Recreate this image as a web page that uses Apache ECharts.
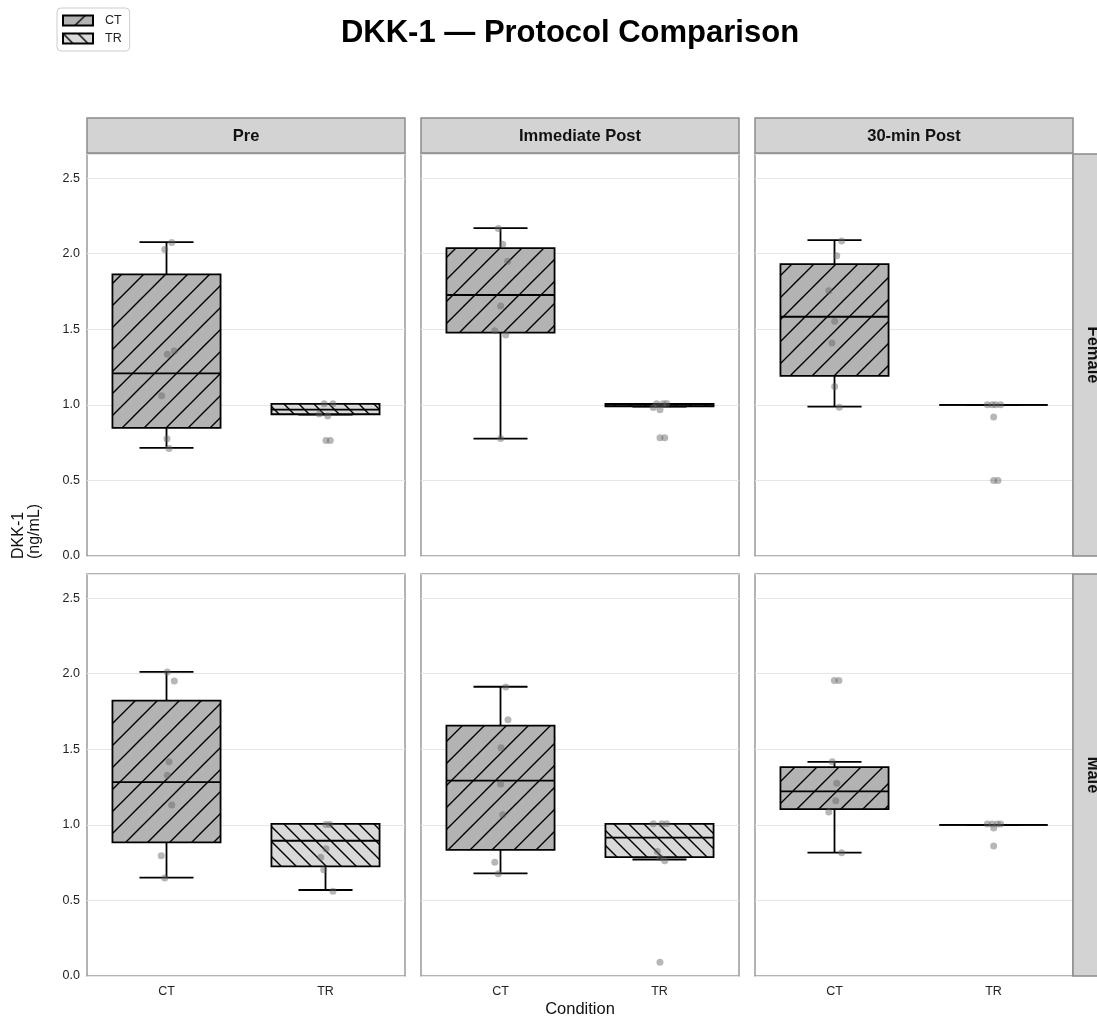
<!DOCTYPE html>
<html><head><meta charset="utf-8">
<script src="https://cdn.jsdelivr.net/npm/echarts@6/dist/echarts.min.js"></script>
<style>html,body{margin:0;padding:0;background:#fff}#chart{width:1097px;height:1021px}</style>
</head><body><div id="chart"></div>
<script>
const timepoints = ['Pre', 'Immediate Post', '30-min Post'];
const sexes = ['Female', 'Male'];
const conditions = ['CT', 'TR'];
const yTicks = [0, 0.5, 1.0, 1.5, 2.0, 2.5];

// box statistics [min, q1, median, q3, max], one per timepoint
const boxFemaleCT = [[0.716, 0.848, 1.209, 1.863, 2.077], [0.777, 1.478, 1.727, 2.037, 2.169], [0.989, 1.192, 1.583, 1.931, 2.090]];
const boxFemaleTR = [[0.936, 0.938, 0.969, 1.007, 1.007], [0.989, 0.990, 1.000, 1.007, 1.007], [1.000, 1.000, 1.000, 1.000, 1.000]];
const boxMaleCT = [[0.651, 0.884, 1.283, 1.822, 2.013], [0.679, 0.834, 1.293, 1.657, 1.914], [0.816, 1.104, 1.221, 1.382, 1.417]];
const boxMaleTR = [[0.569, 0.725, 0.895, 1.007, 1.007], [0.771, 0.787, 0.915, 1.007, 1.007], [1.000, 1.000, 1.000, 1.000, 1.000]];

// individual observations [horizontal jitter, value], one list per timepoint
const ptsFemaleCT = [
  [[0.033, 2.075], [-0.011, 2.028], [0.049, 1.357], [0.005, 1.335], [-0.030, 1.060], [0.003, 0.776], [0.016, 0.711]],
  [[-0.014, 2.167], [0.014, 2.063], [0.045, 1.951], [0.001, 1.654], [-0.036, 1.491], [0.033, 1.462], [0.001, 0.777]],
  [[0.045, 2.085], [0.014, 1.986], [-0.036, 1.755], [0.001, 1.553], [-0.016, 1.410], [0.001, 1.121], [0.030, 0.985]]
];
const ptsFemaleTR = [
  [[-0.008, 1.007], [0.047, 1.007], [-0.039, 0.939], [0.014, 0.927], [0.003, 0.764], [0.030, 0.764]],
  [[-0.018, 1.007], [0.022, 1.007], [0.045, 1.009], [-0.039, 0.982], [0.003, 0.967], [0.003, 0.782], [0.033, 0.782]],
  [[-0.039, 1.0], [-0.008, 1.0], [0.014, 1.0], [0.045, 1.0], [0.001, 0.919], [0.001, 0.500], [0.028, 0.500]]
];
const ptsMaleCT = [
  [[0.005, 2.011], [0.049, 1.952], [0.016, 1.417], [0.005, 1.329], [0.033, 1.131], [-0.033, 0.796], [-0.011, 0.649]],
  [[0.033, 1.912], [0.047, 1.696], [0.003, 1.511], [0.001, 1.271], [0.014, 1.067], [-0.036, 0.752], [-0.014, 0.677]],
  [[-0.001, 1.956], [0.028, 1.956], [-0.014, 1.417], [0.014, 1.276], [0.008, 1.159], [-0.036, 1.085], [0.045, 0.816]]
];
const ptsMaleTR = [
  [[0.003, 1.003], [0.028, 1.003], [0.003, 0.842], [-0.030, 0.785], [-0.011, 0.703], [0.047, 0.560]],
  [[-0.039, 1.007], [0.014, 1.007], [0.045, 1.007], [-0.014, 0.824], [0.003, 0.783], [0.033, 0.763], [0.003, 0.091]],
  [[-0.039, 1.005], [-0.008, 1.005], [0.024, 1.005], [0.045, 1.005], [0.001, 0.980], [0.001, 0.860]]
];

const FONT = '"Liberation Sans", Arial, Helvetica, sans-serif';
const colLeft = [87, 421, 755];
const colWidth = 318;
const rowTop = [154, 574];
const rowHeight = 402;

function makeHatch(period, dir, bg) {
  const c = document.createElement('canvas');
  c.width = period; c.height = period;
  const ctx = c.getContext('2d');
  ctx.fillStyle = bg; ctx.fillRect(0, 0, period, period);
  ctx.strokeStyle = '#000'; ctx.lineWidth = 1.4;
  ctx.beginPath();
  const p = period;
  if (dir === '/') {
    [0, p, 2 * p].forEach(k => { ctx.moveTo(-1, k + 1); ctx.lineTo(p + 1, k - p - 1); });
  } else {
    [-p, 0, p].forEach(k => { ctx.moveTo(-1, k - 1); ctx.lineTo(p + 1, k + p + 1); });
  }
  ctx.stroke();
  return c;
}
const patCT = { image: makeHatch(22, '/', '#b3b3b3'), repeat: 'repeat' };
const patTR = { image: makeHatch(15, '\\', '#d9d9d9'), repeat: 'repeat' };

function renderBox(params, api) {
  const x = api.value(0);
  const pMin = api.coord([x, api.value(1)]);
  const pQ1 = api.coord([x, api.value(2)]);
  const pMed = api.coord([x, api.value(3)]);
  const pQ3 = api.coord([x, api.value(4)]);
  const pMax = api.coord([x, api.value(5)]);
  const band = api.size([1, 0])[0];
  const half = band * 0.34, capHalf = band * 0.17;
  const cx = pMin[0];
  const fill = params.seriesName === 'CT' ? patCT : patTR;
  const ls = { stroke: '#000', lineWidth: 1.8 };
  return {
    type: 'group',
    children: [
      { type: 'line', shape: { x1: cx, y1: pQ3[1], x2: cx, y2: pMax[1] }, style: ls },
      { type: 'line', shape: { x1: cx, y1: pQ1[1], x2: cx, y2: pMin[1] }, style: ls },
      { type: 'line', shape: { x1: cx - capHalf, y1: pMax[1], x2: cx + capHalf, y2: pMax[1] }, style: ls },
      { type: 'line', shape: { x1: cx - capHalf, y1: pMin[1], x2: cx + capHalf, y2: pMin[1] }, style: ls },
      { type: 'rect', shape: { x: cx - half, y: pQ3[1], width: 2 * half, height: pQ1[1] - pQ3[1] }, style: { fill: fill, stroke: '#000', lineWidth: 1.8 } },
      { type: 'line', shape: { x1: cx - half, y1: pMed[1], x2: cx + half, y2: pMed[1] }, style: ls }
    ]
  };
}

const grids = [], xAxes = [], yAxes = [], series = [], graphics = [];
const boxSets = [[boxFemaleCT, boxFemaleTR], [boxMaleCT, boxMaleTR]];
const ptSets = [[ptsFemaleCT, ptsFemaleTR], [ptsMaleCT, ptsMaleTR]];

sexes.forEach((sex, r) => {
  timepoints.forEach((tp, c) => {
    const g = r * 3 + c;
    grids.push({ left: colLeft[c], top: rowTop[r], width: colWidth, height: rowHeight, show: true,
      borderColor: '#9a9a9a', borderWidth: 1.5, backgroundColor: 'transparent' });
    xAxes.push({ gridIndex: g, type: 'category', data: conditions,
      axisLine: { show: false }, axisTick: { show: false }, splitLine: { show: false },
      axisLabel: { show: r === 1, color: '#222', fontSize: 12.5, fontFamily: FONT, margin: 9 } });
    xAxes.push({ gridIndex: g, type: 'value', min: -0.5, max: 1.5, show: false });
    yAxes.push({ gridIndex: g, type: 'value', min: 0, max: 2.66, interval: 0.5,
      axisLine: { show: false }, axisTick: { show: false },
      splitLine: { show: true, lineStyle: { color: '#e6e6e6', width: 1.2 } },
      axisLabel: { show: c === 0, showMaxLabel: false, color: '#222', fontSize: 12.5, fontFamily: FONT, margin: 7,
        formatter: v => (yTicks.indexOf(Math.round(v * 100) / 100) >= 0 ? v.toFixed(1) : '') } });
    conditions.forEach((cond, k) => {
      series.push({ type: 'custom', name: cond, xAxisIndex: 2 * g, yAxisIndex: g, silent: true,
        itemStyle: { color: k === 0 ? patCT : patTR, borderColor: '#000', borderWidth: 1.2 },
        encode: { x: 0, y: [1, 2, 3, 4, 5] },
        renderItem: renderBox, z: 2,
        data: [[k].concat(boxSets[r][k][c])] });
    });
    conditions.forEach((cond, k) => {
      series.push({ type: 'scatter', name: 'points-' + cond, xAxisIndex: 2 * g + 1, yAxisIndex: g, silent: true,
        symbolSize: 7, z: 5,
        itemStyle: { color: 'rgba(100,100,100,0.58)', borderWidth: 0 },
        data: ptSets[r][k][c].map(p => [k + p[0], p[1]]) });
    });
    if (r === 0) {
      graphics.push({ type: 'rect', shape: { x: colLeft[c], y: 118, width: colWidth, height: 35 },
        style: { fill: '#d3d3d3', stroke: '#8c8c8c', lineWidth: 1.5 }, z: 10 });
      graphics.push({ type: 'text', x: colLeft[c] + colWidth / 2, y: 136, z: 11,
        style: { text: tp, fill: '#111', font: 'bold 16.5px ' + FONT, textAlign: 'center', textVerticalAlign: 'middle' } });
    }
  });
  graphics.push({ type: 'rect', shape: { x: 1073, y: rowTop[r], width: 40, height: rowHeight },
    style: { fill: '#d3d3d3', stroke: '#8c8c8c', lineWidth: 1.5 }, z: 10 });
  graphics.push({ type: 'text', x: 1093, y: rowTop[r] + rowHeight / 2, rotation: -Math.PI / 2, z: 11,
    style: { text: sex, fill: '#111', font: 'bold 16.5px ' + FONT, textAlign: 'center', textVerticalAlign: 'middle' } });
});

graphics.push({ type: 'text', x: 27, y: 559, rotation: Math.PI / 2, z: 11,
  style: { text: 'DKK-1\n(ng/mL)', fill: '#111', font: '16px ' + FONT, lineHeight: 16, textAlign: 'left', textVerticalAlign: 'middle' } });
graphics.push({ type: 'text', x: 580, y: 1009, z: 11,
  style: { text: 'Condition', fill: '#111', font: '16.5px ' + FONT, textAlign: 'center', textVerticalAlign: 'middle' } });

const chart = echarts.init(document.getElementById('chart'), null, { renderer: 'canvas' });
chart.setOption({
  animation: false,
  backgroundColor: '#fff',
  title: { text: 'DKK-1 \u2014 Protocol Comparison', left: 570, top: 18, padding: 0, textAlign: 'center',
    textStyle: { fontSize: 31, fontWeight: 'bold', color: '#000', fontFamily: FONT } },
  legend: { data: conditions, left: 57, top: 8, orient: 'vertical', icon: 'rect', itemWidth: 30, itemHeight: 10,
    itemGap: 5, padding: [6, 8, 6, 5], borderColor: '#cccccc', borderWidth: 1, borderRadius: 4, backgroundColor: '#fff',
    textStyle: { fontSize: 12.5, color: '#222', fontFamily: FONT, padding: [0, 0, 0, 7] } },
  grid: grids, xAxis: xAxes, yAxis: yAxes, series: series, graphic: graphics
});
</script></body></html>
